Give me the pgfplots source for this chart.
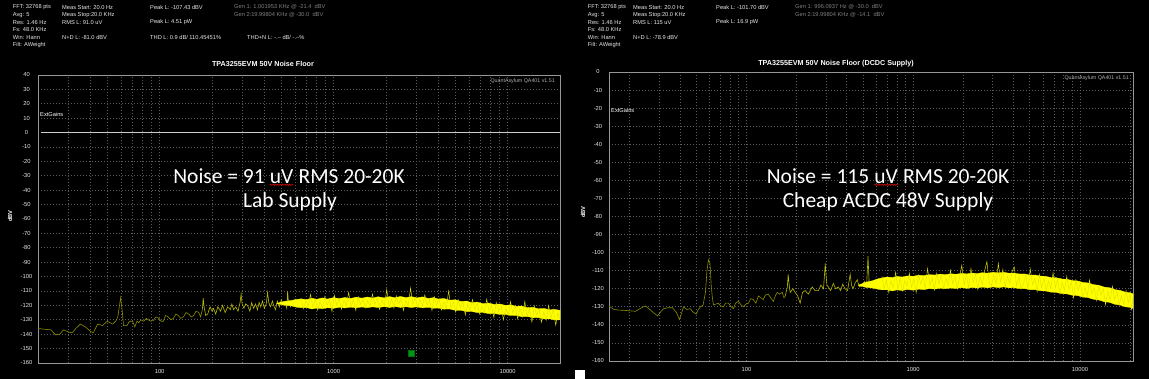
\documentclass[border=0pt]{standalone}
\usepackage{pgfplots}
\pgfplotsset{compat=1.18}
\usepackage{fontspec}
\setmainfont{Liberation Sans}
\newfontfamily\calibri{Carlito}
\usetikzlibrary{decorations.pathmorphing}
\definecolor{gridc}{RGB}{92,92,92}
\definecolor{framec}{RGB}{150,150,150}
\definecolor{hdr}{RGB}{232,232,232}
\definecolor{genc}{RGB}{128,128,128}
\definecolor{trdark}{RGB}{140,140,0}
\definecolor{trmid}{RGB}{185,185,0}
\definecolor{trband}{RGB}{255,255,0}
\definecolor{trspike}{RGB}{225,225,0}
\definecolor{qagreen}{RGB}{0,150,20}
\definecolor{qagreend}{RGB}{0,110,10}
\definecolor{zeroline}{RGB}{205,205,205}
\definecolor{qagray}{RGB}{175,175,175}
\newcommand\hdrfont{\fontsize{5.7}{6.5}\selectfont}
\newcommand\squig[1]{\tikz[baseline=(w.base)]{\node[inner sep=0pt,outer sep=0pt](w){#1};\draw[red!85!black,line width=0.6pt,decorate,decoration={snake,amplitude=0.6pt,segment length=2.4pt}]([yshift=-1.6pt]w.south west)--([yshift=-1.6pt]w.south east);}}
\begin{document}
\begin{tikzpicture}[x=1pt,y=1pt]
\useasboundingbox (0,0) rectangle (1149,379);
\fill[black] (0,0) rectangle (1149,379);
\fill[white] (575,0) rectangle (585,9);

% ---------------- LEFT PANEL ----------------
\begin{axis}[at={(38pt,16pt)}, anchor=south west, scale only axis, width=522pt, height=288pt,
  xmode=log, xmin=20, xmax=20000, ymin=-160, ymax=40,
  axis line style={framec, line width=0.8pt},
  xmajorgrids, ymajorgrids, xminorgrids,
  major grid style={gridc, line width=0.7pt, dash pattern=on 0.7pt off 2.3pt},
  minor grid style={gridc, line width=0.7pt, dash pattern=on 0.7pt off 2.3pt},
  major tick length=0pt, minor tick length=0pt,
  xtick={100,1000,10000}, xticklabels={100,1000,10000},
  minor xtick={20,30,40,50,60,70,80,90,200,300,400,500,600,700,800,900,2000,3000,4000,5000,6000,7000,8000,9000},
  ticklabel style={font=\fontsize{5.8}{6.5}\selectfont, text=hdr},
  yticklabel style={anchor=center, xshift=-11.5pt},
  xticklabel style={anchor=center, yshift=-9pt},
  ytick={-160,-150,-140,-130,-120,-110,-100,-90,-80,-70,-60,-50,-40,-30,-20,-10,0,10,20,30,40},
  yticklabels={-160,-150,-140,-130,-120,-110,-100,-90,-80,-70,-60,-50,-40,-30,-20,-10,0,10,20,30,40}]
\addplot[zeroline, line width=0.8pt] coordinates {(20.7,0) (20000,0)};
\addplot[trdark, line width=0.6pt] coordinates {
(20,-136) (21.5,-136.5) (23.7,-137) (25.3,-140.5) (26.7,-140) (28,-137) (30,-138.5) (31.5,-139) (33,-136) (35,-133) (37.5,-135) (40,-138) (41.6,-139) (44,-133) (47,-134) (50,-131) (53.7,-133) (55.9,-131) (57.5,-128) (59.7,-114.6) (61,-124) (62,-134) (65,-134) (67,-131) (70,-131) (72,-135) (74,-131) (76,-132) (78,-130) (81,-131) (84,-129) (86,-130) (89,-131) (92,-130.5) (95,-128) (99,-129) (102,-131) (105,-131) (108,-127) (112,-128) (116,-130) (120,-129) (124,-126) (128,-127) (132,-129) (137,-128) (142,-125) (147,-126) (152,-128) (157,-127) (162,-124) (168,-125) (172,-128) (176,-123)};
\addplot[trmid, line width=0.6pt] coordinates {
(176,-123) (178,-115) (180,-121) (184,-127) (189,-126) (195,-121) (200,-124) (204,-122) (210,-126) (216,-121) (224,-124) (230,-120) (238,-125) (246,-121) (255,-123) (260,-119) (266,-123) (274,-121) (282,-124) (290,-118) (294,-112) (298,-119) (305,-122) (312,-119) (320,-120) (330,-124) (338,-118) (347,-122) (356,-119) (365,-123) (373,-118) (381,-121) (390,-117) (400,-122) (410,-119) (417,-111) (424,-118) (434,-121) (445,-117) (452,-120) (463,-123) (475,-117) (488,-121) (500,-116) (512,-120) (525,-118) (538,-122) (544,-110) (550,-118) (565,-121) (580,-117) (589,-120) (600,-116) (615,-121) (630,-118) (650,-120)};
\addplot[fill=trband, draw=trband, line width=0.3pt] coordinates {
(470,-118.6) (520,-117.2) (570,-116.6) (610,-115.9) (650,-115.5) (700,-116) (750,-115) (800,-115.8) (860,-114.8) (920,-115.6) (1000,-114.6) (1080,-115.3) (1160,-114.5) (1250,-115.2) (1350,-114.3) (1450,-115) (1560,-114.2) (1680,-114.9) (1800,-114) (1950,-114.8) (2100,-113.9) (2250,-114.7) (2420,-113.8) (2600,-114.6) (2800,-113.9) (3000,-114.8) (3250,-114.1) (3500,-115.2) (3750,-114.6) (4000,-115.6) (4300,-115.2) (4650,-116.4) (5000,-116.1) (5400,-117.3) (5800,-117) (6200,-118.1) (6700,-117.7) (7200,-118.8) (7800,-118.4) (8400,-119.4) (9000,-119) (9700,-120) (10400,-119.6) (11200,-120.7) (12000,-120.4) (13000,-121.6) (14000,-121.3) (15000,-122.4) (16200,-122.1) (17400,-123.1) (18700,-122.8) (20000,-123.5)
(20000,-130) (18700,-130.2) (17400,-129.3) (16200,-129.4) (15000,-128.5) (14000,-128.6) (13000,-127.7) (12000,-127.8) (11200,-126.9) (10400,-127) (9700,-126.2) (9000,-126.3) (8400,-125.6) (7800,-125.7) (7200,-124.9) (6700,-125) (6200,-124.2) (5800,-124.3) (5400,-123.4) (5000,-123.4) (4650,-122.5) (4300,-122.6) (4000,-121.8) (3750,-122) (3500,-121.3) (3250,-121.7) (3000,-121) (2800,-121.5) (2600,-120.9) (2420,-121.4) (2250,-120.8) (2100,-121.4) (1950,-120.9) (1800,-121.5) (1680,-121) (1560,-121.6) (1450,-121.1) (1350,-121.7) (1250,-121.2) (1160,-121.8) (1080,-121.3) (1000,-122) (920,-121.6) (860,-122.3) (800,-121.8) (750,-122.5) (700,-121.5) (650,-121.6) (610,-121.2) (570,-120.3) (520,-119.8) (470,-118.8)};
\addplot[trspike, line width=0.45pt] coordinates {
(650,-114.8) (670,-122.3) (692,-116.8) (714,-120.8) (737,-112.3) (760,-121.3) (785,-115.8) (810,-123.3) (836,-117.3) (863,-121.8) (890,-113.8) (919,-119.8) (948,-116.3) (978,-124.3) (1010,-113) (1042,-120) (1075,-115) (1110,-122.5) (1145,-116.5) (1182,-120.5) (1220,-111) (1259,-121) (1299,-116) (1341,-123.5) (1384,-114) (1428,-119.5) (1474,-115.5) (1521,-121.7) (1570,-116.7) (1620,-120.7) (1672,-112.2) (1725,-119.7) (1780,-114.7) (1837,-122.7) (1896,-116.2) (1957,-120.2) (2020,-109) (2084,-121) (2151,-115.5) (2220,-122) (2291,-113.5) (2364,-119) (2440,-115) (2518,-123.5) (2598,-116.5) (2682,-120.5) (2767,-108) (2856,-119.5) (2947,-114.5) (3042,-121.5) (3139,-116) (3239,-120.7) (3343,-112.7) (3450,-119.9) (3560,-115.9) (3674,-123.6) (3792,-114.1) (3913,-119.9) (4038,-115.4) (4168,-123.2) (4301,-117.7) (4438,-122) (4580,-110) (4727,-121.8) (4878,-117.5) (5034,-124.7) (5195,-116) (5362,-121.6) (5533,-117.8) (5710,-126.5) (5893,-119) (6081,-123.8) (6276,-115.9) (6477,-123.1) (6684,-118.2) (6898,-125.9) (7118,-120.5) (7346,-125.2) (7581,-115.8) (7824,-124) (8074,-120.1) (8332,-128.3) (8599,-118) (8874,-124.1) (9158,-119.7) (9451,-130.1) (9753,-121.9) (10065,-126.8) (10387,-117.4) (10720,-125.5) (11063,-120.1) (11417,-129.3) (11782,-122.3) (12159,-127.9) (12548,-117.3) (12950,-127.7) (13364,-122.5) (13792,-131.6) (14233,-120.4) (14689,-126.9) (15159,-122.5) (15644,-131.7) (16145,-124.6) (16661,-130.2) (17194,-120.1) (17745,-128.7) (18312,-122.8) (18898,-133.8) (19503,-124.9) (20000,-129.7)};
\addplot[only marks, mark=square*, mark size=3.2pt, mark options={fill=qagreen, draw=qagreend}] coordinates {(2800,-153.4)};
\end{axis}

% ---------------- RIGHT PANEL ----------------
\begin{axis}[at={(609pt,18pt)}, anchor=south west, scale only axis, width=524pt, height=289pt,
  xmode=log, xmin=15, xmax=20800, ymin=-160, ymax=0,
  axis line style={framec, line width=0.8pt},
  xmajorgrids, ymajorgrids, xminorgrids,
  major grid style={gridc, line width=0.7pt, dash pattern=on 0.7pt off 2.3pt},
  minor grid style={gridc, line width=0.7pt, dash pattern=on 0.7pt off 2.3pt},
  major tick length=0pt, minor tick length=0pt,
  xtick={100,1000,10000}, xticklabels={100,1000,10000},
  minor xtick={20,30,40,50,60,70,80,90,200,300,400,500,600,700,800,900,2000,3000,4000,5000,6000,7000,8000,9000,20000},
  ticklabel style={font=\fontsize{5.8}{6.5}\selectfont, text=hdr},
  yticklabel style={anchor=center, xshift=-11pt},
  xticklabel style={anchor=center, yshift=-9pt},
  ytick={-160,-150,-140,-130,-120,-110,-100,-90,-80,-70,-60,-50,-40,-30,-20,-10,0},
  yticklabels={-160,-150,-140,-130,-120,-110,-100,-90,-80,-70,-60,-50,-40,-30,-20,-10,0}]
\addplot[trdark, line width=0.6pt] coordinates {
(15,-129.6) (16,-131.4) (17,-131.8) (18.8,-132) (21.6,-132.5) (23,-131) (24.8,-129.5) (26,-131) (27.5,-133) (29.3,-135) (30.5,-133) (31.9,-131) (34,-130.5) (36,-130.5) (38,-133) (39.7,-137) (41,-133) (42,-130) (44,-131.5) (46,-131) (48,-133) (50,-134) (51.5,-131.5) (53,-130) (55,-129) (56.8,-122) (58,-110) (59.2,-104) (60.5,-106) (61.5,-118) (62.5,-125) (63.5,-129) (65.5,-128.5) (67.9,-128) (70,-129.5) (72.8,-130) (75,-128) (78,-128) (81,-130) (83.6,-131) (86,-128) (89.6,-127) (93,-129) (96,-130) (99,-128.5) (102.8,-128) (106,-125.5) (110,-126) (114,-128) (118,-124) (122,-125) (126,-126) (130,-123.5) (135,-123) (140,-125) (145,-127) (149,-124) (153,-122) (158,-123) (164,-122) (168,-125) (171,-124)};
\addplot[trmid, line width=0.6pt] coordinates {
(171,-124) (176,-119) (178,-112) (180,-117) (183,-122) (190,-120) (196,-122) (203,-124) (210,-128) (217,-122) (225,-121) (235,-123) (248,-119) (258,-121) (270,-121) (280,-118) (290,-120) (297,-106) (300,-112) (304,-118) (310,-119) (320,-121) (332,-117) (343,-120) (355,-119) (367,-121) (378,-117.5) (390,-120) (404,-121) (419,-112) (427,-118) (436,-120) (448,-117) (462,-115) (475,-119) (494,-118) (510,-116) (525,-119) (536,-102) (545,-118) (560,-116) (575,-120) (594,-117) (610,-119) (630,-115.5) (650,-118)};
\addplot[fill=trband, draw=trband, line width=0.3pt] coordinates {
(470,-118) (520,-116.4) (570,-115.6) (610,-114.6) (650,-114) (700,-113.5) (750,-113.8) (800,-113.2) (860,-113.5) (920,-112.9) (1000,-113.1) (1080,-112.5) (1160,-112.7) (1250,-112.2) (1350,-112.4) (1450,-111.9) (1560,-112.2) (1680,-111.7) (1800,-112) (1950,-111.5) (2100,-111.8) (2250,-111.3) (2420,-111.6) (2600,-111.1) (2800,-111.4) (3000,-110.9) (3250,-111.2) (3500,-110.9) (3750,-111.4) (4000,-111.3) (4300,-111.8) (4650,-111.8) (5000,-112.4) (5400,-112.4) (5800,-113) (6200,-113.1) (6700,-113.8) (7200,-113.9) (7800,-114.6) (8400,-114.8) (9000,-115.5) (9700,-115.7) (10400,-116.5) (11200,-116.8) (12000,-117.7) (13000,-118.1) (14000,-119.1) (15000,-119.4) (16200,-120.5) (17400,-120.9) (18700,-121.9) (20000,-122.2) (20800,-122.8)
(20800,-130.9) (20000,-130.3) (18700,-130) (17400,-129) (16200,-128.6) (15000,-127.5) (14000,-127.2) (13000,-126.2) (12000,-125.8) (11200,-124.9) (10400,-124.6) (9700,-123.8) (9000,-123.6) (8400,-122.9) (7800,-122.7) (7200,-122) (6700,-121.9) (6200,-121.2) (5800,-121.1) (5400,-120.5) (5000,-120.5) (4650,-119.9) (4300,-119.9) (4000,-119.4) (3750,-119.5) (3500,-119) (3250,-119.4) (3000,-119) (2800,-119.5) (2600,-119.1) (2420,-119.6) (2250,-119.3) (2100,-119.8) (1950,-119.4) (1800,-119.9) (1680,-119.6) (1560,-120) (1450,-119.7) (1350,-120.2) (1250,-119.9) (1160,-120.5) (1080,-120.2) (1000,-120.8) (920,-120.4) (860,-121) (800,-120.6) (750,-121.2) (700,-120.6) (650,-120.6) (610,-120.2) (570,-119.6) (520,-119.2) (470,-118.2)};
\addplot[trspike, line width=0.45pt] coordinates {
(650,-113.2) (670,-120.2) (692,-115.2) (714,-122.1) (737,-115.5) (760,-119.5) (785,-110.9) (810,-120.3) (836,-114.2) (863,-121.1) (890,-115.6) (919,-118.4) (948,-111.4) (978,-119.3) (1010,-114.2) (1042,-122.1) (1075,-112.5) (1110,-117.5) (1145,-113.4) (1182,-119.8) (1220,-108.8) (1259,-118.2) (1299,-114.1) (1341,-120.5) (1384,-111.5) (1428,-117.4) (1474,-112.4) (1521,-119.8) (1570,-114.3) (1620,-118.2) (1672,-109.7) (1725,-117.2) (1780,-113.1) (1837,-120.1) (1896,-114) (1957,-107) (2020,-117.9) (2084,-112.4) (2151,-119.4) (2220,-108.8) (2291,-116.8) (2364,-111.8) (2440,-120.3) (2518,-113.2) (2598,-117.6) (2682,-110.1) (2767,-105) (2856,-116.5) (2947,-118.4) (3042,-112.4) (3139,-117.4) (3239,-106) (3343,-116.3) (3450,-109.3) (3560,-119.4) (3674,-113) (3792,-117.1) (3913,-110.6) (4038,-108) (4168,-118.4) (4301,-113) (4438,-120.1) (4580,-117.2) (4727,-112.3) (4878,-119.9) (5034,-109.1) (5195,-117.7) (5362,-114.4) (5533,-121.5) (5710,-112.1) (5893,-119.3) (6081,-113.9) (6276,-120.7) (6477,-115.8) (6684,-120) (6898,-111.1) (7118,-119.4) (7346,-114.5) (7581,-122.7) (7824,-116.3) (8074,-121) (8332,-113.2) (8599,-120.4) (8874,-116.2) (9158,-124.9) (9451,-115.1) (9753,-120.8) (10065,-116.6) (10387,-124.4) (10720,-119.2) (11063,-123.9) (11417,-115.2) (11782,-123) (12159,-119.3) (12548,-126.5) (12950,-118.3) (13364,-123.6) (13792,-119.9) (14233,-128.7) (14689,-121.5) (15159,-126.3) (15644,-118.6) (16145,-126) (16661,-121.3) (17194,-129.1) (17745,-123.9) (18312,-128.7) (18898,-121) (19503,-127.7) (20000,-122.9) (20400,-132) (20800,-124)};
\end{axis}

% ---------------- TEXTS ----------------
\begin{scope}[every node/.style={inner sep=0pt, anchor=west, font=\hdrfont, text=hdr}]
\node at (12.7,371.7) {FFT: 32768 pts};
\node at (12.7,364.3) {Avg: 5};
\node at (12.7,356.7) {Res: 1.46 Hz};
\node at (12.7,349) {Fs: 48.0 KHz};
\node at (12.7,341.3) {Win: Hann};
\node at (12.7,333.7) {Filt: AWeight};
\node at (62,371.7) {Meas Start: 20.0 Hz};
\node at (62,364.3) {Meas Stop:20.0 KHz};
\node at (62,356.7) {RMS L: 91.0 uV};
\node at (62,341.3) {N+D L: -81.0 dBV};
\node at (150,371.7) {Peak L: -107.43 dBV};
\node at (150,356.7) {Peak L: 4.51 pW};
\node at (150,341.3) {THD L: 0.9 dB/ 110.45451\%};
\node at (247,341.3) {THD+N L: -.-- dB/ -.--\%};
\node[text=genc] at (234,371.7) {Gen 1: 1.001953 KHz @ -21.4 \ dBV};
\node[text=genc] at (234,364.3) {Gen 2:19.99804 KHz @ -30.0 \ dBV};
\node at (587.7,371.7) {FFT: 32768 pts};
\node at (587.7,364.3) {Avg: 5};
\node at (587.7,356.7) {Res: 1.46 Hz};
\node at (587.7,349) {Fs: 48.0 KHz};
\node at (587.7,341.3) {Win: Hann};
\node at (587.7,333.7) {Filt: AWeight};
\node at (633,371.7) {Meas Start: 20.0 Hz};
\node at (633,364.3) {Meas Stop:20.0 KHz};
\node at (633,356.7) {RMS L: 115 uV};
\node at (633,341.3) {N+D L: -78.9 dBV};
\node at (716,371.7) {Peak L: -101.70 dBV};
\node at (716,356.7) {Peak L: 16.9 pW};
\node[text=genc] at (795,371.7) {Gen 1: 996.0937 Hz @ -30.0 \ dBV};
\node[text=genc] at (795,364.3) {Gen 2:19.99804 KHz @ -14.1 \ dBV};
\node[text=white] at (40,265) {ExtGains};
\node[text=white] at (611,269) {ExtGains};
\node[anchor=east, text=qagray, font=\fontsize{5.3}{6}\selectfont] at (555,298) {QuantAsylum QA401 v1.51};
\node[anchor=east, text=qagray, font=\fontsize{5.3}{6}\selectfont] at (1129,301) {QuantAsylum QA401 v1.51};
\node[anchor=center, text=white, font=\bfseries\fontsize{7.2}{8}\selectfont] at (263,315) {TPA3255EVM 50V Noise Floor};
\node[anchor=center, text=white, font=\bfseries\fontsize{7.2}{8}\selectfont] at (836,315) {TPA3255EVM 50V Noise Floor (DCDC Supply)};
\node[anchor=center, rotate=90, text=white, font=\bfseries\fontsize{5.8}{6.5}\selectfont] at (10,163) {dBV};
\node[anchor=center, rotate=90, text=white, font=\bfseries\fontsize{5.8}{6.5}\selectfont] at (583,167) {dBV};
\end{scope}
\node[anchor=center, text=white, inner sep=0pt, font=\calibri\fontsize{21.5}{26}\selectfont] at (289,202) {Noise = 91 \squig{uV} RMS 20-20K};
\node[anchor=center, text=white, inner sep=0pt, font=\calibri\fontsize{21.5}{26}\selectfont] at (290,177) {Lab Supply};
\node[anchor=center, text=white, inner sep=0pt, font=\calibri\fontsize{21.5}{26}\selectfont] at (888,202) {Noise = 115 \squig{uV} RMS 20-20K};
\node[anchor=center, text=white, inner sep=0pt, font=\calibri\fontsize{21.5}{26}\selectfont] at (888,177) {Cheap ACDC 48V Supply};
\end{tikzpicture}
\end{document}
